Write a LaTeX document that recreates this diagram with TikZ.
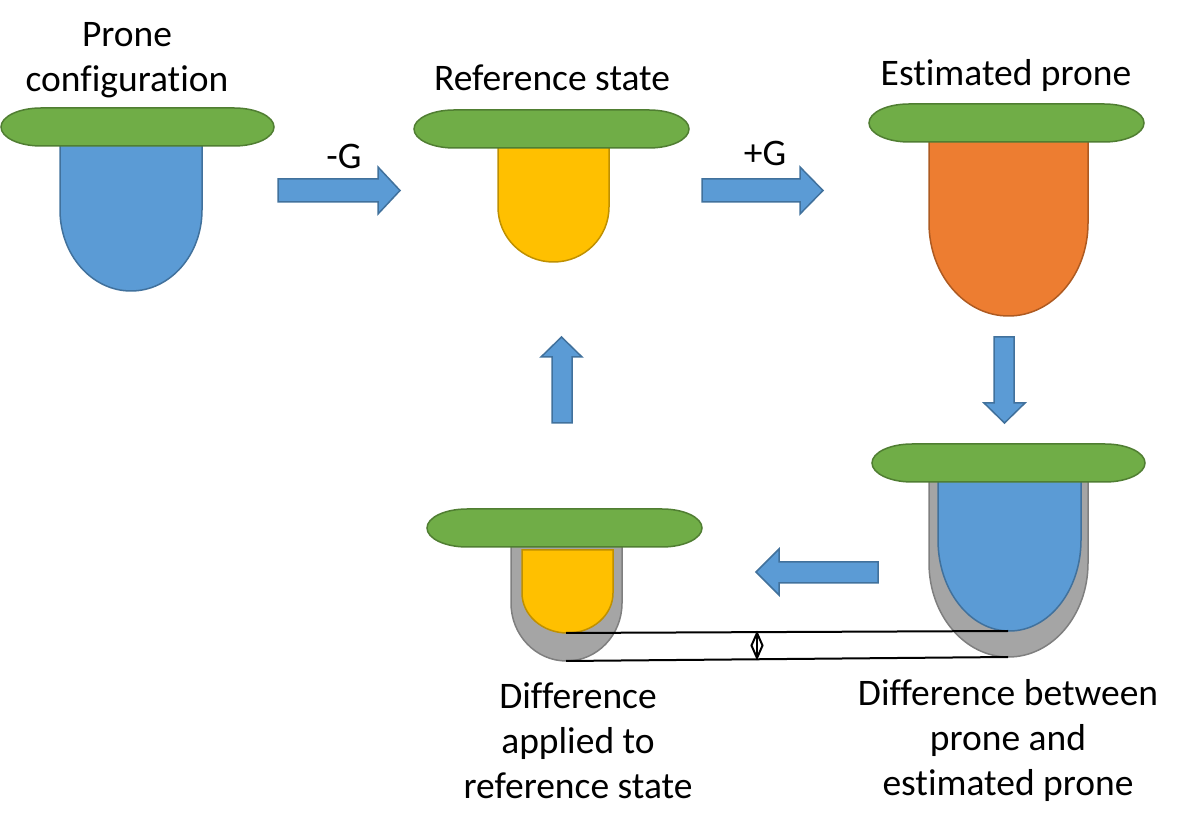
\documentclass[tikz,border=0pt]{standalone}
\usepackage{fontspec}
\setmainfont{Carlito}[Ligatures=NoCommon]
\usetikzlibrary{arrows.meta}
\definecolor{pgreen}{HTML}{70AD47}
\definecolor{pgreenD}{HTML}{507E32}
\definecolor{pblue}{HTML}{5B9BD5}
\definecolor{pblueD}{HTML}{41719C}
\definecolor{pyellow}{HTML}{FFC000}
\definecolor{pyellowD}{HTML}{BF9000}
\definecolor{porange}{HTML}{ED7D31}
\definecolor{porangeD}{HTML}{AE5A21}
\definecolor{pgray}{HTML}{A5A5A5}
\definecolor{pgrayD}{HTML}{7F7F7F}
\tikzset{
  pillsty/.style={fill=pgreen,draw=pgreenD,line width=1.5pt},
  bluesty/.style={fill=pblue,draw=pblueD,line width=1.5pt},
  yellowsty/.style={fill=pyellow,draw=pyellowD,line width=1.5pt},
  orangesty/.style={fill=porange,draw=porangeD,line width=1.5pt},
  graysty/.style={fill=pgray,draw=pgrayD,line width=1.5pt},
  blockarrow/.style={fill=pblue,draw=pblueD,line width=1.5pt,line join=miter},
  lbl/.style={font=\fontsize{37.5}{45}\selectfont,align=center,inner sep=0pt},
  diffline/.style={draw=black,line width=2pt},
  diamondtip/.style={draw=black,line width=2pt,line join=miter}
}
% pill: xL xR yBottom
\newcommand\mypill[3]{%
  \path[pillsty] ({#1+40},#3) -- ({#2-40},#3)
    arc[start angle=-90,end angle=90,x radius=40pt,y radius=19pt]
    -- ({#1+40},{#3+38})
    arc[start angle=90,end angle=270,x radius=40pt,y radius=19pt] -- cycle;}
% U shape: style xL xR ytop ystraight rx ry
\newcommand\myushape[7]{%
  \path[#1] (#2,#4) -- (#2,#5)
    arc[start angle=180,end angle=360,x radius=#6pt,y radius=#7pt]
    -- (#3,#4) -- cycle;}
\begin{document}
\begin{tikzpicture}[x=1pt,y=1pt]
\useasboundingbox (0,0) rectangle (1191,830);

% --- Prone configuration
\myushape{bluesty}{60}{202}{690}{620}{71}{81}
\mypill{1}{274}{684}
\node[lbl] (tprone) at (127,770) {Prone\\configuration};

% --- Reference state
\myushape{yellowsty}{498}{609}{690}{623}{55.5}{55}
\mypill{414}{689}{682}
\node[lbl] (tref) at (552,752) {Reference state};

% --- Estimated prone
\myushape{orangesty}{929}{1088}{695}{607}{79.5}{93}
\mypill{869}{1144}{688}
\node[lbl] (test) at (1006,754) {Estimated prone};

% --- Difference between prone and estimated prone
\myushape{graysty}{929}{1088}{355}{267}{79.5}{94}
\myushape{bluesty}{938}{1081}{355}{290}{71.5}{91}
\mypill{872}{1145}{348}
\node[lbl] (tdiff) at (1008,89) {Difference between\\prone and\\estimated prone};

% --- Difference applied to reference state
\myushape{graysty}{511}{622}{290}{227}{55.5}{58}
\myushape{yellowsty}{522}{613}{280}{237}{45.5}{40}
\mypill{427}{702}{283}
\node[lbl] (tapp) at (578,89) {Difference\\applied to\\reference state};

% --- block arrows
\path[blockarrow] (278,628) -- (378,628) -- (378,616) -- (400,639.5)
  -- (378,663) -- (378,651) -- (278,651) -- cycle;
\node[lbl] (tminus) at (344,674) {-G};
\path[blockarrow] (702,628) -- (800,628) -- (800,616) -- (823,639.5)
  -- (800,663) -- (800,651) -- (702,651) -- cycle;
\node[lbl] (tplus) at (765,677) {+G};
\path[blockarrow] (994,493) -- (1014,493) -- (1014,427) -- (1025,427)
  -- (1004.5,407) -- (984,427) -- (994,427) -- cycle;
\path[blockarrow] (878,247) -- (779,247) -- (779,235) -- (756,258)
  -- (779,281) -- (779,268) -- (878,268) -- cycle;
\path[blockarrow] (552,407) -- (572,407) -- (572,473) -- (582,473)
  -- (561.5,493) -- (541,473) -- (552,473) -- cycle;

% --- difference lines
\coordinate (ysmall) at (566,197);
\coordinate (bsmall) at (1008,199);
\coordinate (gsmall) at (566,169);
\coordinate (gbig) at (1008,173);
\coordinate (dtop) at (757,197);
\coordinate (dbot) at (757,172);
\draw[diffline] (ysmall) -- (bsmall);
\draw[diffline] (gsmall) -- (gbig);
\draw[diamondtip] (dtop) -- (762.5,184.5) -- (dbot) -- (751.5,184.5) -- cycle;
\draw[diamondtip] (dtop) -- (dbot);
\end{tikzpicture}
\end{document}
